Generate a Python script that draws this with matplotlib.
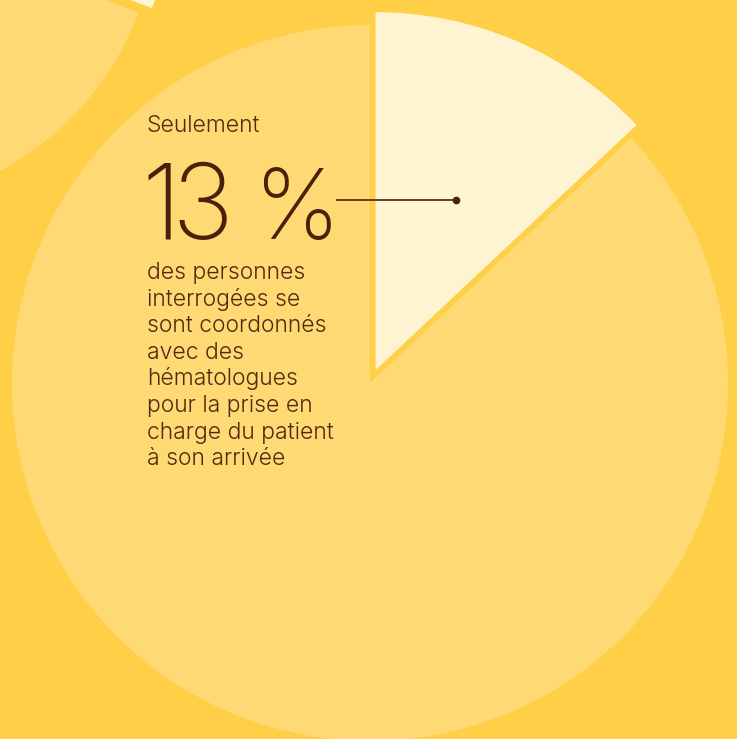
import matplotlib
matplotlib.use('Agg')
import matplotlib.pyplot as plt

# ── Data ──────────────────────────────────────────────────────────────────────
main_values = [13, 87]            # % coordinated with haematologists vs others
side_values = [22, 78]            # decorative partial pie, top-left corner
headline = "Seulement"
big_digits = ["1", "3", "%"]      # "13 %" set glyph by glyph
body_lines = ["des personnes", "interrogées se", "sont coordonnés",
              "avec des", "hématologues", "pour la prise en",
              "charge du patient", "à son arrivée"]

# ── Style ─────────────────────────────────────────────────────────────────────
BG = '#ffcf48'
PIE_LIGHT = '#ffd974'
PIE_CREAM = '#fef4d2'
TEXT = '#4f2a0f'
NUM = '#4a2108'
FONT = 'Inter'
W, H = 737, 739

fig = plt.figure(figsize=(W / 100, H / 100), dpi=100, facecolor=BG)
ax = fig.add_axes([0, 0, 1, 1])
ax.axis('off')


def img_y(y):
    return H - y


# main pie, the 13 % slice pulled out
ax.pie(main_values, startangle=90, counterclock=False,
       center=(370, img_y(383)), radius=358, explode=[14, 0],
       colors=[PIE_CREAM, PIE_LIGHT], wedgeprops=dict(linewidth=0))

# partial pie leaking in at top-left
ax.pie(side_values, startangle=-20.7, counterclock=True,
       center=(-141, img_y(-93)), radius=299, explode=[14, 0],
       colors=[PIE_CREAM, PIE_LIGHT], wedgeprops=dict(linewidth=0))

ax.set_xlim(0, W)
ax.set_ylim(0, H)
ax.set_aspect('equal')

# text block
ax.text(147, img_y(132), headline, family=FONT, weight=300, fontsize=16.5,
        color=TEXT, va='baseline', ha='left')
for ch, x, fs in zip(big_digits, [141, 171, 254], [75, 75, 70]):
    ax.text(x, img_y(238.5), ch, family=FONT, weight=200, fontsize=fs,
            color=NUM, va='baseline', ha='left')
for i, line in enumerate(body_lines):
    ax.text(147, img_y(279 + i * 26.6), line, family=FONT, weight=300,
            fontsize=16.5, color=TEXT, va='baseline', ha='left')

# leader line into the slice
ax.plot([337, 456], [img_y(200), img_y(200)], color=NUM, lw=1.2)
ax.plot([456], [img_y(200)], 'o', color=NUM, ms=4.5)

fig.savefig('out.png', dpi=100, facecolor=BG)
